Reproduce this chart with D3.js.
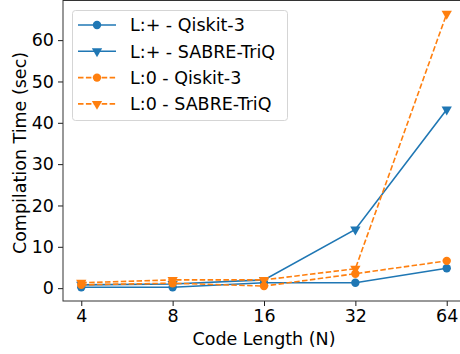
<!DOCTYPE html>
<html>
<head>
<meta charset="utf-8">
<script src="https://cdn.jsdelivr.net/npm/d3@7"></script>
<style>
  body { margin: 0; background: #fff; }
  svg { display: block; font-family: "DejaVu Sans", sans-serif; }
</style>
</head>
<body>
<div id="chart"></div>
<script>
// code lengths on the x axis
const codeLengths = [4, 8, 16, 32, 64];

// compilation times (sec)
const plusQiskit = [0.2, 0.2, 1.3, 1.3, 4.8];
const plusSabre = [0.8, 1.0, 2.0, 14.2, 43.2];
const zeroQiskit = [0.8, 1.2, 0.5, 3.5, 6.6];
const zeroSabre = [1.3, 2.0, 2.0, 4.7, 66.4];

const yTicks = [0, 10, 20, 30, 40, 50, 60];

const series = [
    { label: "L:+ - Qiskit-3", values: plusQiskit, color: "#1f77b4", dashed: false, marker: "circle" },
    { label: "L:+ - SABRE-TriQ", values: plusSabre, color: "#1f77b4", dashed: false, marker: "triangle" },
    { label: "L:0 - Qiskit-3", values: zeroQiskit, color: "#ff7f0e", dashed: true, marker: "circle" },
    { label: "L:0 - SABRE-TriQ", values: zeroSabre, color: "#ff7f0e", dashed: true, marker: "triangle" }
];

const width = 460, height = 354;
const plotLeft = 63, plotRight = 465, plotTop = 0, plotBottom = 301;
const fontSize = 17.5;

const svg = d3.select("#chart").append("svg")
    .attr("width", width)
    .attr("height", height);

// matplotlib style 5% margins
const all = series.flatMap(s => s.values);
const yMin = d3.min(all), yMax = d3.max(all);
const pad = (yMax - yMin) * 0.05;

const x = d3.scaleLog().base(2)
    .domain([4 * Math.pow(2, -0.2), 64 * Math.pow(2, 0.2)])
    .range([plotLeft, plotRight]);

const y = d3.scaleLinear()
    .domain([yMin - pad, yMax + pad])
    .range([plotBottom, plotTop]);

// axes
const xAxis = svg.append("g")
    .attr("transform", `translate(0,${plotBottom})`)
    .call(d3.axisBottom(x).tickValues(codeLengths).tickFormat(d3.format("d")).tickSizeOuter(0).tickSize(5).tickPadding(4));

const yAxis = svg.append("g")
    .attr("transform", `translate(${plotLeft},0)`)
    .call(d3.axisLeft(y).tickValues(yTicks).tickSizeOuter(0).tickSize(5).tickPadding(4));

[xAxis, yAxis].forEach(a => {
    a.select(".domain").remove();
    a.selectAll("text").attr("font-size", fontSize).attr("fill", "#000").attr("font-family", "DejaVu Sans");
    a.selectAll("line").attr("stroke", "#000").attr("stroke-width", 0.9);
});

// frame
svg.append("rect")
    .attr("x", plotLeft).attr("y", plotTop + 0.5)
    .attr("width", plotRight - plotLeft).attr("height", plotBottom - plotTop - 0.5)
    .attr("fill", "none").attr("stroke", "#333").attr("stroke-width", 1);

const line = d3.line()
    .x((d, i) => x(codeLengths[i]))
    .y(d => y(d));

const tri = d3.symbol().type(d3.symbolTriangle).size(46);

const drawMarker = (g, type, color, px, py) => {
    if (type === "circle") {
        g.append("circle").attr("cx", px).attr("cy", py).attr("r", 4.2).attr("fill", color);
    } else {
        g.append("path").attr("d", tri())
            .attr("transform", `translate(${px},${py}) rotate(180)`)
            .attr("fill", color);
    }
};

series.forEach(s => {
    const g = svg.append("g");
    g.append("path")
        .datum(s.values)
        .attr("d", line)
        .attr("fill", "none")
        .attr("stroke", s.color)
        .attr("stroke-width", 1.6)
        .attr("stroke-dasharray", s.dashed ? "5.5,2.4" : null);
    s.values.forEach((v, i) => drawMarker(g, s.marker, s.color, x(codeLengths[i]), y(v)));
});

// legend
const legend = svg.append("g");
legend.append("rect")
    .attr("x", 72.5).attr("y", 10.5)
    .attr("width", 215).attr("height", 110)
    .attr("rx", 3)
    .attr("fill", "#fff").attr("fill-opacity", 0.8)
    .attr("stroke", "#d5d5d5");

series.forEach((s, i) => {
    const cy = 25 + i * 26.3;
    legend.append("line")
        .attr("x1", 78).attr("x2", 116)
        .attr("y1", cy).attr("y2", cy)
        .attr("stroke", s.color).attr("stroke-width", 1.6)
        .attr("stroke-dasharray", s.dashed ? "5.5,2.4" : null);
    drawMarker(legend, s.marker, s.color, 97, cy);
    legend.append("text")
        .attr("x", 130).attr("y", cy)
        .attr("dy", "0.36em")
        .attr("font-size", fontSize)
        .text(s.label);
});

// axis titles
svg.append("text")
    .attr("x", 264)
    .attr("y", 345)
    .attr("text-anchor", "middle")
    .attr("font-size", fontSize)
    .text("Code Length (N)");

svg.append("text")
    .attr("transform", `translate(26,153) rotate(-90)`)
    .attr("text-anchor", "middle")
    .attr("font-size", fontSize)
    .text("Compilation Time (sec)");
</script>
</body>
</html>
